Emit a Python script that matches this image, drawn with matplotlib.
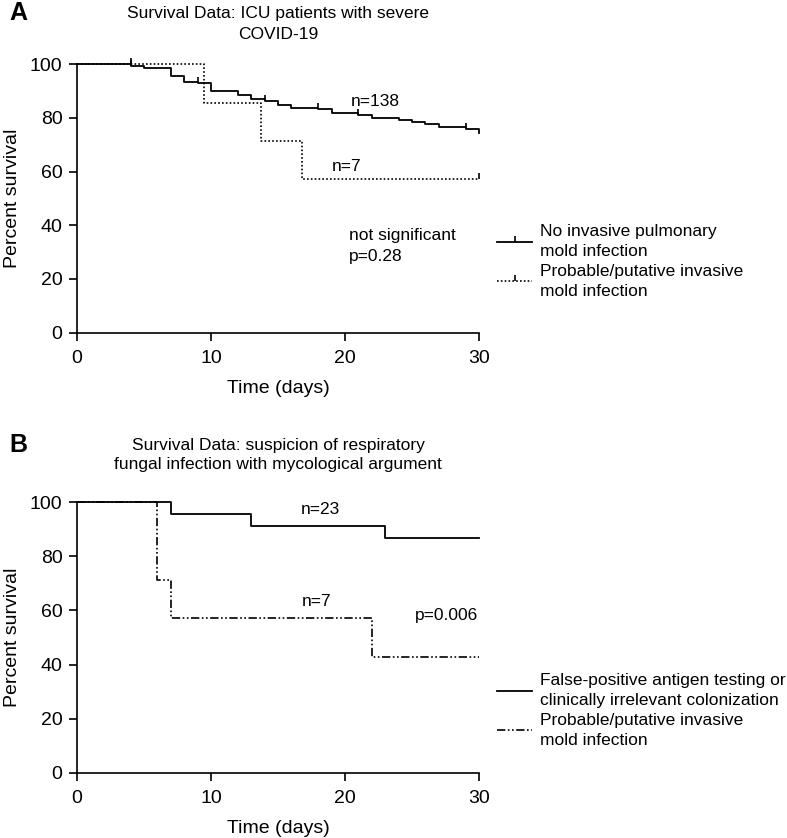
import numpy as np
import matplotlib
matplotlib.use("Agg")
import matplotlib.pyplot as plt
from matplotlib.lines import Line2D

plt.rcParams['font.family'] = ['Liberation Sans', 'DejaVu Sans']

# ---- panel A data ----
a_no_t = [0, 4, 5, 7, 8, 9, 10, 12, 13, 14, 15, 16, 18, 19, 21, 22, 24, 25, 26, 27, 29, 30]
a_no_s = [100, 99.3, 98.6, 95.7, 93.5, 92.8, 90.0, 88.6, 87.1, 86.4, 84.9, 83.5,
          83.1, 81.9, 81.0, 80.1, 79.2, 78.4, 77.6, 76.7, 75.7, 74.5]
a_no_cens = [4, 9, 14, 18, 21, 29]

a_mold_t = [0, 9.5, 13.7, 16.8, 30]
a_mold_s = [100, 85.7, 71.4, 57.1, 57.1]
a_mold_cens = [4, 30]

a_labels = ["No invasive pulmonary\nmold infection",
            "Probable/putative invasive\nmold infection"]

# ---- panel B data ----
b_fp_t = [0, 7, 13, 23, 30]
b_fp_s = [100, 95.65, 91.3, 86.96, 86.96]

b_mold_t = [0, 6, 7, 22, 30]
b_mold_s = [100, 71.4, 57.1, 42.9, 42.9]

b_labels = ["False-positive antigen testing or\nclinically irrelevant colonization",
            "Probable/putative invasive\nmold infection"]

xticks = [0, 10, 20, 30]
yticks = [0, 20, 40, 60, 80, 100]

DOTTED = (0, (1, 1.3))
DASHDOT2 = (0, (5, 1.5, 1, 1.5, 1, 1.5))


def surv_at(t, times, surv):
    i = np.searchsorted(times, t, side='right') - 1
    return np.asarray(surv)[i]


def style_axes(ax):
    ax.set_xlim(0, 30)
    ax.set_ylim(0, 100)
    ax.set_xticks(xticks)
    ax.set_yticks(yticks)
    for s in ['top', 'right']:
        ax.spines[s].set_visible(False)
    for s in ['left', 'bottom']:
        ax.spines[s].set_linewidth(1.2)
    ax.tick_params(direction='out', length=6, width=1.2, labelsize=14)
    ax.tick_params(axis='x', pad=6.5)
    ax.tick_params(axis='y', pad=4.5)
    ax.set_xlabel("Time (days)", fontsize=14, labelpad=9)
    ax.set_ylabel("Percent survival", fontsize=14, labelpad=6)


def add_legend(ax, handles, labels, ycen):
    leg = ax.legend(handles, labels, loc='center left', bbox_to_anchor=(1.015, ycen),
                    frameon=False, fontsize=12.5, handlelength=2.0, handletextpad=0.45,
                    numpoints=1, labelspacing=0.25, borderaxespad=0.3)
    for t in leg.get_texts():
        t.set_linespacing(1.45)
    return leg


fig = plt.figure(figsize=(7.87, 8.38), dpi=100)

# ---------------- panel A ----------------
axA = fig.add_axes([0.0978, 0.603, 0.5108, 0.3205])
axA.step(a_no_t, a_no_s, where='post', color='k', lw=1.3, clip_on=False)
axA.plot(a_no_cens, [surv_at(t, a_no_t, a_no_s) for t in a_no_cens],
         ls='none', marker=2, ms=4, mew=1.2, color='k', clip_on=False)
axA.step(a_mold_t, a_mold_s, where='post', color='k', lw=1.2, ls=DOTTED, clip_on=False)
axA.plot(a_mold_cens, [surv_at(t, a_mold_t, a_mold_s) for t in a_mold_cens],
         ls='none', marker=2, ms=4, mew=1.2, color='k', clip_on=False)
style_axes(axA)
axA.set_title("Survival Data: ICU patients with severe\nCOVID-19", fontsize=12.5,
              pad=18, linespacing=1.5)
axA.text(22.3, 86, "n=138", fontsize=12.5, ha='center', va='center')
axA.text(20.1, 62, "n=7", fontsize=12.5, ha='center', va='center')
axA.text(20.3, 36, "not significant", fontsize=12.5, ha='left', va='center')
axA.text(20.3, 28.4, "p=0.28", fontsize=12.5, ha='left', va='center')

hA = [Line2D([], [], color='k', lw=1.3, marker=2, ms=4, mew=1.2),
      Line2D([], [], color='k', lw=1.2, ls=DOTTED, marker=2, ms=4, mew=1.2)]
add_legend(axA, hA, a_labels, 0.265)

fig.text(0.012, 0.985, "A", fontsize=18, fontweight='bold', va='center', ha='left')

# ---------------- panel B ----------------
axB = fig.add_axes([0.0978, 0.0779, 0.5108, 0.3227])
axB.step(b_fp_t, b_fp_s, where='post', color='k', lw=1.3, clip_on=False)
axB.step(b_mold_t, b_mold_s, where='post', color='k', lw=1.2, ls=DASHDOT2, clip_on=False)
style_axes(axB)
axB.set_title("Survival Data: suspicion of respiratory\nfungal infection with mycological argument",
              fontsize=12.5, pad=24, linespacing=1.3)
axB.text(18.2, 97.2, "n=23", fontsize=12.5, ha='center', va='center')
axB.text(17.9, 63.2, "n=7", fontsize=12.5, ha='center', va='center')
axB.text(27.6, 58.3, "p=0.006", fontsize=12.5, ha='center', va='center')

hB = [Line2D([], [], color='k', lw=1.3),
      Line2D([], [], color='k', lw=1.2, ls=DASHDOT2)]
add_legend(axB, hB, b_labels, 0.23)

fig.text(0.012, 0.469, "B", fontsize=18, fontweight='bold', va='center', ha='left')

fig.savefig("out.png", dpi=100)
